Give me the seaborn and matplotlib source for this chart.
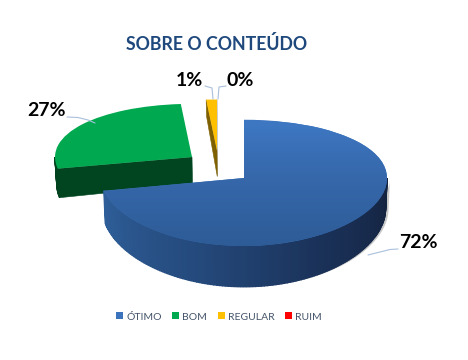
import numpy as np
import matplotlib
matplotlib.use('Agg')
import matplotlib.pyplot as plt
from matplotlib.lines import Line2D
import seaborn as sns

categories = ['ÓTIMO', 'BOM', 'REGULAR', 'RUIM']
values = [71.8, 26.9, 1.3, 0.0]
slice_colors = ['#3B73BC', '#00A94F', '#FFC000', '#FF0000']
title = 'SOBRE O CONTEÚDO'

sns.set_theme(style='white')
plt.rcParams['font.family'] = ['Lato', 'DejaVu Sans']

W, H = 468, 360
APEX_Y = 178  # row of the blue slice apex

# the tilted view: far side of the pie is squeezed, near side stretched
A, B = 0.4387, 0.000539
def to_screen(y):
    return A * y / (1 + B * y)
def to_ground(s):
    return s / (A - B * s)

def depth_at(y):
    return 30.6 - 0.071 * y

def px(x, y):
    return x / W, 1 - y / H

fig = plt.figure(figsize=(W / 100, H / 100), dpi=100, facecolor='white')
ax = fig.add_axes([0, 0, 1, 1])
ax.set_yscale('function', functions=(to_screen, to_ground))

wedges, _ = ax.pie(values, colors=slice_colors, startangle=90, counterclock=False,
                   wedgeprops={'linewidth': 0})

# centre and radius of each slice after pulling it out
centers = [(244, 0), (192, 49), (217, 65), (244, 0)]
radii = [143, 137, 133, 143]
for w, c, r in zip(wedges, centers, radii):
    w.set_center(c)
    w.set_radius(r)


def side_points(xs, ys):
    s = to_screen(ys)
    low = to_ground(s - depth_at(ys))
    low_x = 243 + (xs - 243) * 0.99
    return low_x, low


def draw_rim(w, t0, t1, palette, z):
    # outer wall of a slice, one thin strip per colour
    cx, cy = w.center
    th = np.radians(np.linspace(t0, t1, len(palette) + 1))
    xs = cx + w.r * np.cos(th)
    ys = cy + w.r * np.sin(th)
    lx, ly = side_points(xs, ys)
    for i, col in enumerate(palette):
        ax.fill([xs[i], xs[i + 1], lx[i + 1], lx[i]], [ys[i], ys[i + 1], ly[i + 1], ly[i]],
                color=col, linewidth=1.0, zorder=z)


def draw_cut(w, t, color, z):
    # flat wall along a cut edge
    cx, cy = w.center
    xs = np.array([cx, cx + w.r * np.cos(np.radians(t))])
    ys = np.array([cy, cy + w.r * np.sin(np.radians(t))])
    lx, ly = side_points(xs, ys)
    ax.fill([xs[0], xs[1], lx[1], lx[0]], [ys[0], ys[1], ly[1], ly[0]],
            color=color, linewidth=0.4, zorder=z)


blue, green, yellow, red = wedges

# yellow sliver
draw_cut(yellow, yellow.theta2, '#7F6000', 1)
draw_cut(yellow, yellow.theta1, '#C4C4C4', 0.9)
yellow.set_zorder(2)

# green slice
draw_cut(green, green.theta2, '#00451F', 3)
draw_rim(green, -180, green.theta2, sns.blend_palette(['#00401D', '#00451F'], 8), 3)
green.set_zorder(4)

# blue slice: soft shadow, wall, then the top face with a gradient
th = np.radians(np.linspace(blue.theta1, 0, 120))
sx = blue.center[0] + blue.r * np.cos(th)
sy = blue.center[1] + blue.r * np.sin(th)
lx, ly = side_points(sx, sy)
ax.fill(np.r_[sx + 3, (lx + 3)[::-1]], np.r_[sy, ly[::-1]], color='#C8C8C8', linewidth=0, zorder=4.5)
draw_rim(blue, blue.theta1, 0,
         sns.blend_palette(['#2F5F9A', '#254B7E', '#1A3158', '#14233F'], 140), 5)
blue.set_zorder(6)

gx = np.array([90.0, 400.0])
gy = np.linspace(-150, 150, 60)
shade = sns.blend_palette(['#2D5B96', '#3567AA', '#3E78C4'], 64, as_cmap=True)
mesh = ax.pcolormesh(gx, gy, gy[:-1][:, None], cmap=shade, shading='flat', zorder=7)
mesh.set_clip_path(blue)

ax.set_xlim(0, W)
ax.set_ylim(to_ground(APEX_Y - H), to_ground(APEX_Y))
ax.set_aspect('auto')
ax.axis('off')

# title and slice labels
fig.text(*px(217, 44), title, ha='center', va='center', fontsize=12.8, fontweight='bold', color='#1F497D')

label_spots = [(418, 243), (47, 111), (189, 80), (240, 80)]
for v, (lx_, ly_) in zip(values, label_spots):
    fig.text(*px(lx_, ly_), f'{v:.0f}%', ha='center', va='center', fontsize=14,
             fontweight='bold', color='black')

# leader lines
leaders = [
    ([368, 380, 390, 398], [255, 252, 249.5, 249]),
    ([67, 78, 88, 95], [117, 117.5, 120, 123]),
    ([213, 212, 205], [99, 88, 86]),
    ([218, 219, 226], [99, 87, 86]),
]
for lxs, lys in leaders:
    fx, fy = zip(*[px(a, b) for a, b in zip(lxs, lys)])
    fig.add_artist(Line2D(fx, fy, color='#A9C0DC', linewidth=0.8, zorder=10))

leg = fig.legend(wedges, categories, loc='center', bbox_to_anchor=px(219, 317), ncol=4, frameon=False,
                 fontsize=7.5, handlelength=0.67, handleheight=0.67, handletextpad=0.3,
                 columnspacing=1.0, labelcolor='#44546A', borderpad=0)

plt.savefig('out.png', dpi=100)
plt.close()
